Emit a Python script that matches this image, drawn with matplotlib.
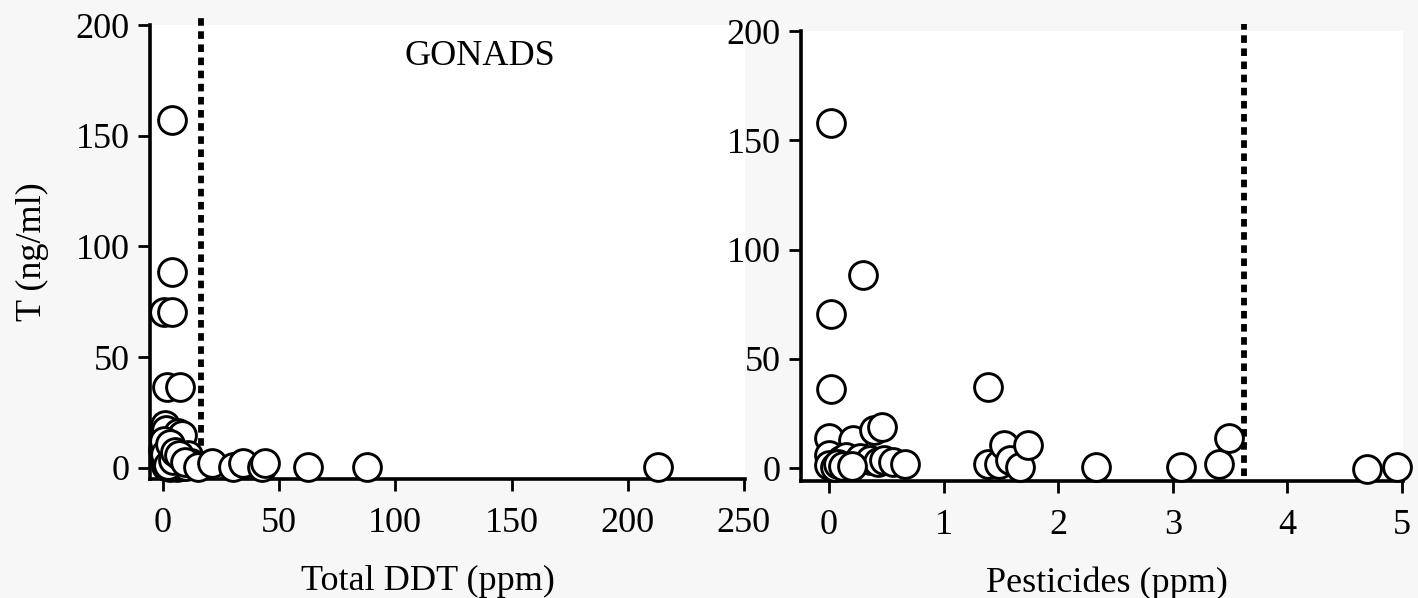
import matplotlib
matplotlib.use("Agg")
import matplotlib.pyplot as plt

plt.rcParams['font.family'] = ['Liberation Serif', 'DejaVu Serif']

# ---- data ----
ddt_x = [3.7, 3.7, 0.6, 3.7, 1.6, 7.3, 0.9, 1.5, 6.6, 8.3,
         0.2, 0.5, 0.8, 1.2, 1.5, 2.0, 2.5, 3.0, 3.5, 4.0,
         4.5, 5.0, 5.5, 6.0, 6.5, 7.0, 8.0, 9.0, 10.0, 10.8, 12.0,
         0.4, 1.0, 2.2, 2.8, 4.2, 5.2, 6.8, 9.5,
         15.0, 21.0, 30.3, 34.6, 42.5, 44.0, 62.6, 87.8, 213.0]
ddt_y = [157.0, 88.6, 70.3, 70.3, 36.7, 36.7, 19.4, 17.0, 15.8, 14.9,
         8.0, 4.0, 2.0, 10.0, 1.0, 6.0, 3.0, 0.5, 8.0, 2.0,
         5.0, 1.0, 3.0, 0.5, 4.0, 2.0, 1.0, 3.0, 1.0, 5.9, 2.0,
         12.0, 6.5, 1.5, 11.0, 3.5, 7.0, 6.0, 2.5,
         0.6, 2.0, 0.6, 2.0, 0.6, 2.0, 0.6, 0.6, 0.6]

pest_x = [0.015, 0.30, 0.02, 0.02, 1.39, 0.0, 0.21, 0.39, 0.46,
          0.0, 0.0, 0.10, 0.15, 0.27, 0.36, 0.43, 0.48, 0.56, 0.66,
          0.05, 0.08, 0.12, 0.20,
          1.39, 1.48, 1.53, 1.58, 1.67, 1.74,
          2.33, 3.07, 3.40, 3.49, 4.70, 4.96]
pest_y = [158.0, 88.3, 70.3, 36.2, 37.2, 13.6, 12.8, 17.4, 18.9,
          6.0, 1.4, 3.6, 5.2, 4.4, 3.7, 2.9, 3.6, 3.0, 2.1,
          0.5, 2.0, 1.0, 0.8,
          2.0, 2.0, 10.5, 3.7, 0.6, 10.5,
          0.3, 0.3, 1.8, 14.0, -0.6, 0.3]

ddt_threshold = 16.2
pest_threshold = 3.62

ddt_xticks = [0, 50, 100, 150, 200, 250]
pest_xticks = [0, 1, 2, 3, 4, 5]
yticks = [0, 50, 100, 150, 200]

# ---- figure ----
W, H = 1418, 598
fig = plt.figure(figsize=(W / 100, H / 100), dpi=100, facecolor='#f7f7f7')

def frac(l, r, t, b):
    return [l / W, (H - b) / H, (r - l) / W, (b - t) / H]

ax1 = fig.add_axes(frac(150, 745, 25, 479))
ax2 = fig.add_axes(frac(801, 1403, 31, 481))

FS = 26
for ax in (ax1, ax2):
    ax.set_facecolor('white')
    for s in ('top', 'right'):
        ax.spines[s].set_visible(False)
    for s in ('left', 'bottom'):
        ax.spines[s].set_linewidth(2.6)
        ax.spines[s].set_color('black')
    ax.tick_params(direction='out', length=8.5, width=2.0, labelsize=FS, pad=6)
    ax.tick_params(axis='x', pad=12)
    ax.set_yticks(yticks)

MS = 400
MLW = 2.1
ax1.scatter(ddt_x, ddt_y, s=MS, facecolor='white', edgecolor='black',
            linewidth=MLW, clip_on=False, zorder=3)
ax1.set_xlim(-5.6, 250.5)
ax1.set_ylim(-5.0, 200)
ax1.set_xticks(ddt_xticks)
ax1.plot([ddt_threshold, ddt_threshold], [-2, 203], color='black', lw=4.2,
         linestyle=(0, (1.3, 0.95)), clip_on=False, zorder=2)
ax1.set_xlabel('Total DDT (ppm)', fontsize=FS, labelpad=14)
ax1.xaxis.set_label_coords(0.467, -0.19)
ax1.set_ylabel('T (ng/ml)', fontsize=FS, labelpad=19)
ax1.text(136.6, 186, 'GONADS', fontsize=FS, ha='center', va='center')

ax2.scatter(pest_x, pest_y, s=MS, facecolor='white', edgecolor='black',
            linewidth=MLW, clip_on=False, zorder=3)
ax2.set_xlim(-0.245, 5.01)
ax2.set_ylim(-5.9, 200)
ax2.set_xticks(pest_xticks)
ax2.plot([pest_threshold, pest_threshold], [-3.5, 203], color='black', lw=4.2,
         linestyle=(0, (1.3, 0.95)), clip_on=False, zorder=2)
ax2.set_xlabel('Pesticides (ppm)', fontsize=FS, labelpad=14)
ax2.xaxis.set_label_coords(0.508, -0.19)

fig.savefig('out.png', dpi=100, facecolor=fig.get_facecolor())
